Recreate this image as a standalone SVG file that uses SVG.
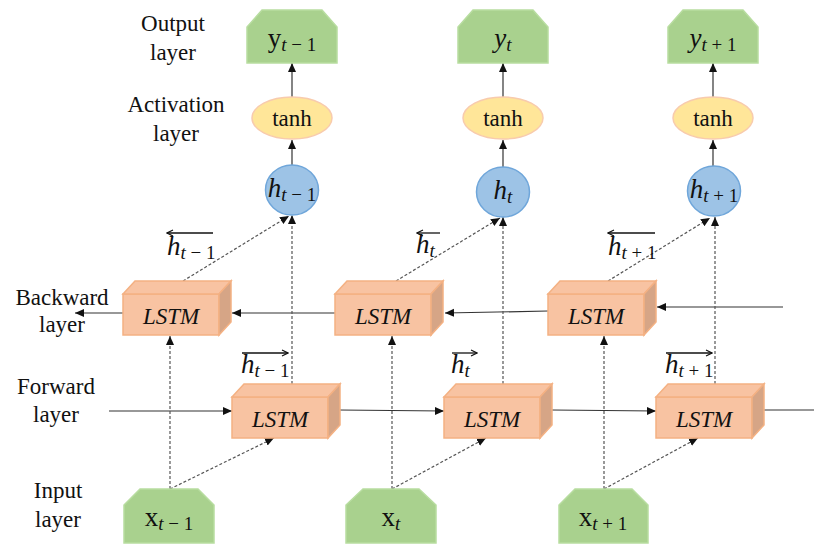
<svg xmlns="http://www.w3.org/2000/svg" xmlns:xlink="http://www.w3.org/1999/xlink" width="814" height="545" viewBox="0 0 814 545">
<style>
.lbl{font-family:"Liberation Serif","DejaVu Serif",serif;font-size:23px;fill:#111;text-anchor:middle}
.math{font-family:"Liberation Serif","DejaVu Serif",serif;fill:#111}
.it{font-style:italic}
.lstm{font-family:"Liberation Serif","DejaVu Serif",serif;font-style:italic;font-size:23px;fill:#111;text-anchor:middle}
.green{fill:#A9D18E;stroke:#B8DDA0;stroke-width:1.5}
.tanh{fill:#FFE699;stroke:#F8CBAD;stroke-width:1.5}
.circ{fill:#9DC3E6;stroke:#6FA6DA;stroke-width:1.5}
.front{fill:#F8C3A2;stroke:#F4B183;stroke-width:1.5}
.side{fill:#D6A586;stroke:#F4B183;stroke-width:1.5}
.solid{stroke:#333;stroke-width:1.2;fill:none}
.dot{stroke:#555;stroke-width:1.2;stroke-dasharray:3 2;fill:none}
.harrow{stroke:#111;stroke-width:1.3;fill:none}
</style>
<defs>
<marker id="ah" markerUnits="userSpaceOnUse" markerWidth="10" markerHeight="10" viewBox="0 0 10 10" refX="9" refY="5" orient="auto">
<path d="M0,1 L9,5 L0,9 Z" fill="#111"/>
</marker>
<marker id="oh" markerUnits="userSpaceOnUse" markerWidth="8" markerHeight="8" viewBox="0 0 8 8" refX="7" refY="4" orient="auto">
<path d="M1,1 L7,4 L1,7" fill="none" stroke="#111" stroke-width="1.2"/>
</marker>
<g id="box">
<rect class="front" x="0" y="0" width="96" height="41"/>
<polygon class="front" points="0,0 12,-13 108,-13 96,0"/>
<polygon class="side" points="96,0 108,-13 108,28 96,41"/>
</g>
</defs>
<rect width="814" height="545" fill="#fff"/>

<g id="layer-labels">
<text class="lbl" x="173" y="31">Output</text>
<text class="lbl" x="173" y="60">layer</text>
<text class="lbl" x="176" y="112">Activation</text>
<text class="lbl" x="176" y="141">layer</text>
<text class="lbl" x="62" y="305">Backward</text>
<text class="lbl" x="62" y="332">layer</text>
<text class="lbl" x="56" y="394">Forward</text>
<text class="lbl" x="56" y="422">layer</text>
<text class="lbl" x="58" y="498">Input</text>
<text class="lbl" x="58" y="527">layer</text>
</g>

<g id="connectors">
<line class="solid" x1="292" y1="97" x2="292" y2="63" marker-end="url(#ah)"/>
<line class="solid" x1="292" y1="165" x2="292" y2="140" marker-end="url(#ah)"/>
<line class="solid" x1="503" y1="97" x2="503" y2="63" marker-end="url(#ah)"/>
<line class="solid" x1="503" y1="167" x2="503" y2="140" marker-end="url(#ah)"/>
<line class="solid" x1="713" y1="97" x2="713" y2="63" marker-end="url(#ah)"/>
<line class="solid" x1="713" y1="166" x2="713" y2="140" marker-end="url(#ah)"/>
<line class="solid" x1="783" y1="307" x2="657" y2="307" marker-end="url(#ah)"/>
<line class="solid" x1="548" y1="311" x2="445" y2="313" marker-end="url(#ah)"/>
<line class="solid" x1="335" y1="313" x2="232" y2="313" marker-end="url(#ah)"/>
<line class="solid" x1="123" y1="313" x2="75" y2="313" marker-end="url(#ah)"/>
<line class="solid" x1="109" y1="411" x2="232" y2="411" marker-end="url(#ah)"/>
<line class="solid" x1="339" y1="410" x2="444" y2="411" marker-end="url(#ah)"/>
<line class="solid" x1="552" y1="410" x2="656" y2="411" marker-end="url(#ah)"/>
<line class="solid" x1="764" y1="410" x2="814" y2="410"/>
<line class="dot" x1="170" y1="489" x2="170" y2="336" marker-end="url(#ah)"/>
<line class="dot" x1="170" y1="489" x2="274" y2="438" marker-end="url(#ah)"/>
<line class="dot" x1="183" y1="281" x2="289" y2="216" marker-end="url(#ah)"/>
<line class="dot" x1="292" y1="384" x2="292" y2="215" marker-end="url(#ah)"/>
<line class="dot" x1="392" y1="489" x2="392" y2="336" marker-end="url(#ah)"/>
<line class="dot" x1="392" y1="489" x2="486" y2="438" marker-end="url(#ah)"/>
<line class="dot" x1="396" y1="281" x2="500" y2="218" marker-end="url(#ah)"/>
<line class="dot" x1="503" y1="384" x2="503" y2="217" marker-end="url(#ah)"/>
<line class="dot" x1="604" y1="489" x2="604" y2="336" marker-end="url(#ah)"/>
<line class="dot" x1="604" y1="489" x2="698" y2="438" marker-end="url(#ah)"/>
<line class="dot" x1="608" y1="281" x2="710" y2="218" marker-end="url(#ah)"/>
<line class="dot" x1="715" y1="384" x2="715" y2="217" marker-end="url(#ah)"/>
</g>

<g id="output-1">
<polygon class="green" points="262,10 322,10 337,27 337,63 247,63 247,27"/>
<text class="math" x="292" y="47" text-anchor="middle" font-size="27">y<tspan font-size="19" dy="4"><tspan class="it">t</tspan> − 1</tspan></text>
</g>
<g id="output-2">
<polygon class="green" points="473,10 533,10 548,27 548,63 458,63 458,27"/>
<text class="math it" x="503" y="47" text-anchor="middle" font-size="27">y<tspan font-size="19" dy="4">t</tspan></text>
</g>
<g id="output-3">
<polygon class="green" points="683,10 743,10 758,27 758,63 668,63 668,27"/>
<text class="math" x="713" y="47" text-anchor="middle" font-size="27"><tspan class="it">y</tspan><tspan font-size="19" dy="4"><tspan class="it">t</tspan> + 1</tspan></text>
</g>

<g id="tanh-1"><ellipse class="tanh" cx="292" cy="118" rx="40" ry="21"/><text class="lbl" x="292" y="126">tanh</text></g>
<g id="tanh-2"><ellipse class="tanh" cx="503" cy="118" rx="40" ry="21"/><text class="lbl" x="503" y="126">tanh</text></g>
<g id="tanh-3"><ellipse class="tanh" cx="713" cy="118" rx="40" ry="21"/><text class="lbl" x="713" y="126">tanh</text></g>

<g id="h-1"><ellipse class="circ" cx="292" cy="190" rx="26.5" ry="25"/>
<text class="math" x="292" y="197" text-anchor="middle" font-size="27"><tspan class="it">h</tspan><tspan font-size="19" dy="4"><tspan class="it">t</tspan> − 1</tspan></text></g>
<g id="h-2"><ellipse class="circ" cx="503" cy="192" rx="26.5" ry="25"/>
<text class="math it" x="503" y="199" text-anchor="middle" font-size="27">h<tspan font-size="19" dy="4">t</tspan></text></g>
<g id="h-3"><ellipse class="circ" cx="714" cy="191" rx="26.5" ry="25"/>
<text class="math" x="714" y="198" text-anchor="middle" font-size="27"><tspan class="it">h</tspan><tspan font-size="19" dy="4"><tspan class="it">t</tspan> + 1</tspan></text></g>

<g id="backward-1"><use xlink:href="#box" href="#box" x="123" y="294"/><text class="lstm" x="171" y="324">LSTM</text></g>
<g id="backward-2"><use xlink:href="#box" href="#box" x="335" y="294"/><text class="lstm" x="383" y="324">LSTM</text></g>
<g id="backward-3"><use xlink:href="#box" href="#box" x="548" y="294"/><text class="lstm" x="596" y="324">LSTM</text></g>
<g id="forward-1"><use xlink:href="#box" href="#box" x="232" y="397"/><text class="lstm" x="280" y="427">LSTM</text></g>
<g id="forward-2"><use xlink:href="#box" href="#box" x="444" y="397"/><text class="lstm" x="492" y="427">LSTM</text></g>
<g id="forward-3"><use xlink:href="#box" href="#box" x="656" y="397"/><text class="lstm" x="704" y="427">LSTM</text></g>

<g id="hidden-labels">
<line class="harrow" x1="213" y1="233" x2="167" y2="233" marker-end="url(#oh)"/>
<text class="math" x="167" y="255" font-size="27"><tspan class="it">h</tspan><tspan font-size="19" dy="4"><tspan class="it">t</tspan> − 1</tspan></text>
<line class="harrow" x1="440" y1="233" x2="417" y2="233" marker-end="url(#oh)"/>
<text class="math it" x="416" y="253" font-size="27">h<tspan font-size="19" dy="4">t</tspan></text>
<line class="harrow" x1="655" y1="233" x2="608" y2="233" marker-end="url(#oh)"/>
<text class="math" x="608" y="255" font-size="27"><tspan class="it">h</tspan><tspan font-size="19" dy="4"><tspan class="it">t</tspan> + 1</tspan></text>
<line class="harrow" x1="242" y1="353" x2="288" y2="353" marker-end="url(#oh)"/>
<text class="math" x="241" y="373" font-size="27"><tspan class="it">h</tspan><tspan font-size="19" dy="4"><tspan class="it">t</tspan> − 1</tspan></text>
<line class="harrow" x1="452" y1="353" x2="477" y2="353" marker-end="url(#oh)"/>
<text class="math it" x="451" y="373" font-size="27">h<tspan font-size="19" dy="4">t</tspan></text>
<line class="harrow" x1="666" y1="353" x2="712" y2="353" marker-end="url(#oh)"/>
<text class="math" x="665" y="373" font-size="27"><tspan class="it">h</tspan><tspan font-size="19" dy="4"><tspan class="it">t</tspan> + 1</tspan></text>
</g>

<g id="input-1">
<polygon class="green" points="140,489 198,489 214,505 214,543 124,543 124,505"/>
<text class="math" x="169" y="526" text-anchor="middle" font-size="27">x<tspan font-size="19" dy="4"><tspan class="it">t</tspan> − 1</tspan></text>
</g>
<g id="input-2">
<polygon class="green" points="363,489 419,489 436,505 436,543 346,543 346,505"/>
<text class="math" x="391" y="526" text-anchor="middle" font-size="27">x<tspan class="it" font-size="19" dy="4">t</tspan></text>
</g>
<g id="input-3">
<polygon class="green" points="575,489 632,489 648,505 648,543 559,543 559,505"/>
<text class="math" x="603" y="526" text-anchor="middle" font-size="27">x<tspan font-size="19" dy="4"><tspan class="it">t</tspan> + 1</tspan></text>
</g>
</svg>
